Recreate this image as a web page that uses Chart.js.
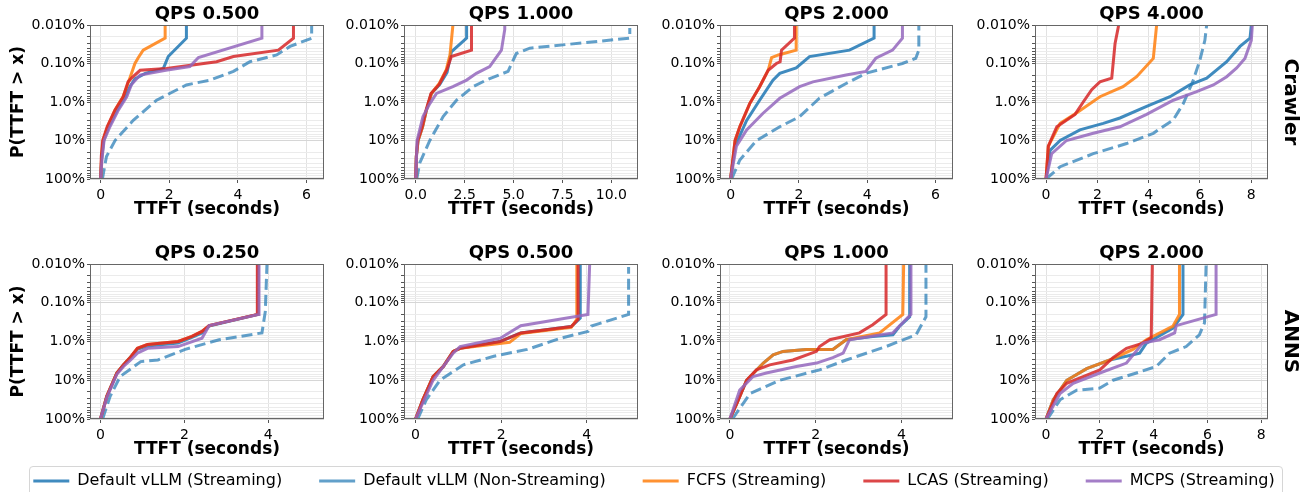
<!DOCTYPE html>
<html>
<head>
<meta charset="utf-8">
<script src="https://cdn.jsdelivr.net/npm/chart.js@4.4.1/dist/chart.umd.min.js"></script>
<style>
  html, body { margin: 0; padding: 0; background: #fff; width: 1309px; height: 492px; overflow: hidden; }
  canvas { position: absolute; }
  #legendBox { position: absolute; left: 29px; top: 466px; width: 1252px; height: 40px;
               border: 1px solid #d6d6d6; border-radius: 4px; }
</style>
</head>
<body>
<div id="legendBox"></div>
<script>
// series / panels
const seriesNames = ['Default vLLM (Streaming)', 'Default vLLM (Non-Streaming)', 'FCFS (Streaming)', 'LCAS (Streaming)', 'MCPS (Streaming)'];
const rowNames = ['Crawler', 'ANNS'];
const panelTitles = ['QPS 0.500', 'QPS 1.000', 'QPS 2.000', 'QPS 4.000', 'QPS 0.250', 'QPS 0.500', 'QPS 1.000', 'QPS 2.000'];
const yTickValues = [0.01, 0.1, 1, 10, 100];
const yTickLabels = ['0.010%', '0.10%', '1.0%', '10%', '100%'];
const xTicks = [[0, 2, 4, 6], [0, 2.5, 5, 7.5, 10], [0, 2, 4, 6], [0, 2, 4, 6, 8],
                [0, 2, 4], [0, 2, 4], [0, 2, 4], [0, 2, 4, 6, 8]];
const xDecimals = [0, 1, 0, 0, 0, 0, 0, 0];

// points are [TTFT seconds, P(TTFT > x) in %]
// Crawler, QPS 0.5
const c05_vllm   = [[0,100],[0.03,30],[0.09,10],[0.23,4.4],[0.48,1.6],[0.72,0.73],[0.85,0.4],[1.0,0.25],[1.3,0.18],[1.83,0.134],[1.97,0.066],[2.5,0.022],[2.5,0.01]];
const c05_vllmNS = [[0.05,100],[0.17,26],[0.42,10],[0.95,3],[1.63,0.9],[2.5,0.36],[3.19,0.27],[3.87,0.16],[4.35,0.09],[5.13,0.06],[5.52,0.036],[6.15,0.022],[6.15,0.01]];
const c05_fcfs   = [[0,100],[0.03,25],[0.07,10],[0.2,4.4],[0.42,1.6],[0.65,0.73],[0.76,0.4],[0.85,0.24],[1.0,0.1],[1.1,0.07],[1.24,0.045],[1.88,0.022],[1.88,0.01]];
const c05_lcas   = [[0,100],[0.02,25],[0.06,10],[0.19,4.4],[0.42,1.6],[0.66,0.73],[0.8,0.3],[0.9,0.24],[1.15,0.15],[1.92,0.134],[3.38,0.09],[3.87,0.066],[5.18,0.045],[5.62,0.022],[5.62,0.01]];
const c05_mcps   = [[0,100],[0.04,30],[0.1,10],[0.27,4.4],[0.52,1.6],[0.76,0.73],[0.9,0.35],[1.15,0.2],[1.9,0.15],[2.6,0.12],[2.85,0.07],[4.7,0.022],[4.7,0.01]];
// Crawler, QPS 1.0
const c1_vllm    = [[0,100],[0.03,26],[0.12,10],[0.35,4.4],[0.55,1.6],[0.8,0.6],[1.23,0.35],[1.6,0.17],[1.82,0.05],[2.6,0.022],[2.6,0.01]];
const c1_vllmNS  = [[0.05,100],[0.2,39],[0.72,10],[1.4,2.4],[2.08,0.9],[2.93,0.4],[3.6,0.27],[4.72,0.16],[5.14,0.055],[5.83,0.04],[10.94,0.022],[10.94,0.012]];
const c1_fcfs    = [[0,100],[0.03,26],[0.12,10],[0.35,4.4],[0.55,1.6],[0.8,0.6],[1.2,0.33],[1.55,0.15],[1.75,0.06],[1.9,0.01]];
const c1_lcas    = [[0,100],[0.03,26],[0.1,10],[0.33,4.4],[0.53,1.6],[0.78,0.6],[1.2,0.35],[1.6,0.14],[1.82,0.066],[2.85,0.045],[2.85,0.01]];
const c1_mcps    = [[0,100],[0.07,10],[0.37,2.4],[0.72,1.1],[1.06,0.6],[1.9,0.4],[2.6,0.27],[3.1,0.18],[3.78,0.12],[4.38,0.045],[4.55,0.013],[4.55,0.01]];
// Crawler, QPS 2.0
const c2_vllm    = [[0,100],[0.13,14],[0.47,3],[0.85,0.9],[1.24,0.27],[1.44,0.18],[1.92,0.13],[2.31,0.066],[3.48,0.045],[4.2,0.022],[4.2,0.01]];
const c2_vllmNS  = [[0.03,100],[0.27,32],[0.76,10],[1.44,4.4],[2.02,2.4],[2.6,0.8],[3.38,0.33],[3.96,0.18],[5.03,0.1],[5.42,0.073],[5.51,0.045],[5.51,0.01]];
const c2_fcfs    = [[0,100],[0.13,10],[0.27,4.4],[0.56,1.1],[0.85,0.4],[1.1,0.15],[1.2,0.07],[1.4,0.06],[1.92,0.045],[1.92,0.01]];
const c2_lcas    = [[0,100],[0.13,10],[0.27,4.4],[0.56,1.1],[0.85,0.4],[1.1,0.15],[1.34,0.1],[1.45,0.09],[1.49,0.045],[1.87,0.022],[1.87,0.01]];
const c2_mcps    = [[0,100],[0.17,14],[0.47,5.3],[0.95,1.96],[1.44,0.8],[2.02,0.4],[2.41,0.3],[3.38,0.2],[3.96,0.16],[4.25,0.073],[4.74,0.045],[5.03,0.022],[5.03,0.01]];
// Crawler, QPS 4.0
const c4_vllm    = [[0,100],[0.16,18],[0.55,10],[1.32,5.3],[2.23,3.6],[2.88,2.6],[3.92,1.3],[4.83,0.73],[5.6,0.36],[6.26,0.24],[7.04,0.09],[7.56,0.036],[7.95,0.022],[8.0,0.01]];
const c4_vllmNS  = [[0,100],[0.55,48],[1.84,22],[3.14,12],[4.18,6.5],[4.96,2.9],[5.35,1.1],[5.74,0.27],[6.0,0.08],[6.19,0.025],[6.26,0.01]];
const c4_fcfs    = [[0,100],[0.09,14],[0.55,3.6],[1.2,1.9],[2.1,0.73],[3.0,0.4],[3.53,0.22],[4.18,0.074],[4.31,0.01]];
const c4_lcas    = [[0,100],[0.09,14],[0.42,4.4],[1.13,2.1],[1.45,1.0],[1.78,0.48],[2.1,0.3],[2.56,0.24],[2.69,0.03],[2.82,0.011],[2.82,0.01]];
const c4_mcps    = [[0,100],[0.22,22],[0.8,10],[1.84,6.5],[2.88,4.4],[3.92,2.1],[4.96,0.9],[5.87,0.54],[6.52,0.36],[7.04,0.22],[7.43,0.13],[7.75,0.074],[8.0,0.025],[8.04,0.01]];
// ANNS, QPS 0.25
const a025_vllm   = [[0,100],[0.15,26],[0.39,6.5],[0.55,4],[0.72,2.5],[0.88,1.6],[1.12,1.3],[1.85,1.1],[2.18,0.78],[2.42,0.6],[2.59,0.4],[3.76,0.2],[3.76,0.01]];
const a025_vllmNS = [[0.05,100],[0.23,26],[0.47,8],[0.96,3.3],[1.37,3],[2.02,1.6],[2.83,0.9],[3.85,0.6],[3.93,0.17],[3.97,0.01]];
const a025_fcfs   = [[0,100],[0.15,26],[0.39,6.5],[0.55,4],[0.72,2.5],[0.88,1.5],[1.12,1.2],[1.85,1.0],[2.18,0.74],[2.42,0.55],[2.59,0.39],[3.76,0.2],[3.76,0.01]];
const a025_lcas   = [[0,100],[0.15,26],[0.39,6.5],[0.55,4],[0.72,2.5],[0.88,1.5],[1.12,1.2],[1.85,1.0],[2.18,0.74],[2.42,0.55],[2.59,0.39],[3.74,0.2],[3.74,0.01]];
const a025_mcps   = [[0,100],[0.15,28],[0.39,7],[0.55,4.4],[0.72,3],[0.88,2.0],[1.12,1.5],[1.85,1.35],[2.42,0.82],[2.59,0.39],[3.76,0.2],[3.78,0.01]];
// ANNS, QPS 0.5
const a05_vllm   = [[0,100],[0.17,32],[0.41,8],[0.65,4.4],[0.88,1.8],[1.04,1.5],[1.98,1.0],[2.46,0.6],[3.64,0.41],[3.85,0.25],[3.85,0.01]];
const a05_vllmNS = [[0.05,100],[0.25,32],[0.57,10],[1.12,4],[1.83,2.4],[2.61,1.6],[3.4,0.82],[4.03,0.55],[4.11,0.4],[4.98,0.2],[4.98,0.012]];
const a05_fcfs   = [[0,100],[0.17,32],[0.41,8],[0.65,4.4],[0.88,1.8],[1.04,1.5],[2.2,1.05],[2.46,0.62],[3.64,0.43],[3.77,0.27],[3.77,0.01]];
const a05_lcas   = [[0,100],[0.17,32],[0.41,8],[0.65,4.4],[0.88,1.8],[1.04,1.5],[1.98,1.0],[2.46,0.6],[3.64,0.41],[3.8,0.27],[3.8,0.01]];
const a05_mcps   = [[0,100],[0.41,10],[0.88,2],[1.04,1.35],[1.98,0.82],[2.46,0.39],[4.03,0.2],[4.07,0.01]];
// ANNS, QPS 1.0
const a1_vllm    = [[0,100],[0.16,40],[0.39,10],[0.78,3.6],[1.01,2.2],[1.24,1.8],[1.78,1.6],[2.4,1.6],[2.71,0.9],[3.33,0.74],[3.8,0.67],[3.95,0.41],[4.19,0.23],[4.19,0.01]];
const a1_vllmNS  = [[0.06,100],[0.47,22],[1.16,10],[2.09,5.4],[2.71,3],[3.64,1.35],[4.34,0.67],[4.57,0.23],[4.57,0.01]];
const a1_fcfs    = [[0,100],[0.16,40],[0.39,10],[0.78,3.6],[1.01,2.2],[1.24,1.8],[1.78,1.6],[2.4,1.6],[2.71,0.9],[3.49,0.6],[4.03,0.2],[4.05,0.01]];
const a1_lcas    = [[0,100],[0.16,40],[0.39,10],[0.62,5.4],[0.93,4],[1.47,3],[2.02,1.8],[2.09,1.35],[2.33,0.9],[3.02,0.6],[3.33,0.37],[3.64,0.2],[3.64,0.01]];
const a1_mcps    = [[0,100],[0.23,18],[0.54,8],[0.85,6.5],[1.55,4.4],[2.02,3.6],[2.4,2.6],[2.64,2],[2.79,0.9],[3.8,0.6],[3.95,0.4],[4.22,0.2],[4.22,0.01]];
// ANNS, QPS 2.0
const a2_vllm    = [[0,100],[0.27,32],[0.52,18],[0.77,10],[1.51,5],[2.37,3],[3.23,2.2],[3.48,2],[3.73,1.1],[4.72,0.45],[5.09,0.2],[5.09,0.01]];
const a2_vllmNS  = [[0.05,100],[0.52,32],[1.14,18],[2.0,16],[2.49,10],[3.36,6.5],[4.1,4.4],[4.59,2],[5.21,1.35],[5.7,0.67],[5.89,0.33],[5.95,0.01]];
const a2_fcfs    = [[0,100],[0.27,32],[0.52,18],[0.77,10],[1.51,5],[2.37,3],[3.23,1.6],[3.73,0.9],[4.72,0.4],[4.96,0.2],[4.96,0.01]];
const a2_lcas    = [[0,100],[0.4,22],[0.77,12],[2.0,5.4],[2.49,2.6],[2.99,1.5],[3.6,1.1],[3.91,0.8],[3.95,0.01]];
const a2_mcps    = [[0,100],[0.52,22],[1.01,12],[2.0,6.5],[2.99,3.6],[3.6,1.1],[4.22,0.9],[4.78,0.6],[4.84,0.39],[6.32,0.2],[6.32,0.01]];

const panelSeries = [
  [c05_vllm, c05_vllmNS, c05_fcfs, c05_lcas, c05_mcps],
  [c1_vllm, c1_vllmNS, c1_fcfs, c1_lcas, c1_mcps],
  [c2_vllm, c2_vllmNS, c2_fcfs, c2_lcas, c2_mcps],
  [c4_vllm, c4_vllmNS, c4_fcfs, c4_lcas, c4_mcps],
  [a025_vllm, a025_vllmNS, a025_fcfs, a025_lcas, a025_mcps],
  [a05_vllm, a05_vllmNS, a05_fcfs, a05_lcas, a05_mcps],
  [a1_vllm, a1_vllmNS, a1_fcfs, a1_lcas, a1_mcps],
  [a2_vllm, a2_vllmNS, a2_fcfs, a2_lcas, a2_mcps],
];

// styling
const FONT = 'DejaVu Sans';
const seriesColors = ['rgba(31,119,180,0.85)', 'rgba(31,119,180,0.7)', 'rgba(255,127,14,0.85)', 'rgba(214,39,40,0.85)', 'rgba(148,103,189,0.85)'];
const seriesDash = [[], [11, 5], [], [], []];

// layout of the plot areas (pixels)
const plotLeft = [90, 404, 720, 1035];
const plotRight = [324, 638, 953, 1268];
const plotTop = [25, 264];
const plotBottom = [179, 419];
const xLimits = [[-0.31, 6.51], [-0.6, 11.36], [-0.31, 6.51], [-0.43, 8.65],
                 [-0.25, 5.33], [-0.27, 5.2], [-0.23, 5.2], [-0.41, 8.25]];

// y grid at 1..9 x each decade
const yGrid = [];
for (let e = -2; e <= 2; e++) {
  for (let k = 1; k <= 9; k++) {
    const v = Number((k * Math.pow(10, e)).toPrecision(3));
    if (v <= 100) yGrid.push(v);
  }
}
const majorIndex = v => yTickValues.findIndex(t => Math.abs(v / t - 1) < 1e-6);

const framePlugin = {
  id: 'frame',
  afterDatasetsDraw(chart) {
    const a = chart.chartArea, c = chart.ctx;
    c.save();
    c.strokeStyle = '#666';
    c.lineWidth = 1;
    c.strokeRect(Math.round(a.left) + 0.5, Math.round(a.top) + 0.5, Math.round(a.right - a.left) - 1, Math.round(a.bottom - a.top) - 1);
    c.restore();
  }
};

function makePanel(i) {
  const row = Math.floor(i / 4), col = i % 4;
  const wl = col === 0 ? 81 : 62;
  const wr = col === 3 ? 34 : 8;
  const tTop = 27, hb = 41;
  const left = plotLeft[col] - wl, top = plotTop[row] - tTop;
  const width = wl + plotRight[col] - plotLeft[col] + wr;
  const height = tTop + plotBottom[row] - plotTop[row] + hb;

  const cv = document.createElement('canvas');
  cv.width = width; cv.height = height;
  cv.style.left = left + 'px'; cv.style.top = top + 'px';
  cv.style.width = width + 'px'; cv.style.height = height + 'px';
  document.body.appendChild(cv);

  const datasets = panelSeries[i].map((pts, k) => ({
    label: seriesNames[k],
    data: pts.map(p => ({ x: p[0], y: p[1] })),
    showLine: true,
    borderColor: seriesColors[k],
    backgroundColor: seriesColors[k],
    borderWidth: 3,
    borderDash: seriesDash[k],
    pointRadius: 0,
    tension: 0,
    order: 5 - k,
  }));

  const scales = {
    x: {
      type: 'linear', min: xLimits[i][0], max: xLimits[i][1],
      afterBuildTicks: ax => { ax.ticks = xTicks[i].map(v => ({ value: v })); },
      afterFit: s => { s.height = hb; },
      ticks: { autoSkip: false, maxRotation: 0, padding: 4, color: '#000', font: { family: FONT, size: 14 },
               callback: v => Number(v).toFixed(xDecimals[i]) },
      grid: { color: '#e2e2e2', tickLength: 4, tickColor: '#555' },
      border: { display: false },
      title: { display: true, text: 'TTFT (seconds)', color: '#000', padding: { top: 0, bottom: 0 },
               font: { family: FONT, size: 17, weight: 'bold', lineHeight: '20px' } }
    },
    y: {
      type: 'logarithmic', reverse: true, min: 0.01, max: 100,
      afterBuildTicks: ax => { ax.ticks = yGrid.map(v => ({ value: v })); },
      afterFit: s => { s.width = wl; },
      ticks: { autoSkip: false, padding: 2, color: '#000', font: { family: FONT, size: 14 },
               callback: v => { const m = majorIndex(v); return m >= 0 ? yTickLabels[m] : ''; } },
      grid: { color: c => majorIndex(c.tick.value) >= 0 ? '#d6d6d6' : '#ebebeb', tickLength: 3, tickColor: '#555' },
      border: { display: false },
      title: { display: col === 0, text: 'P(TTFT > x)', color: '#000', padding: { top: 0, bottom: 0 },
               font: { family: FONT, size: 17, weight: 'bold', lineHeight: '20px' } }
    }
  };
  if (col === 3) {
    scales.r = {
      type: 'linear', position: 'right', display: true,
      afterFit: s => { s.width = wr; },
      ticks: { display: false },
      grid: { display: false, drawTicks: false },
      border: { display: false },
      title: { display: true, text: rowNames[row], color: '#000', padding: { top: 0, bottom: 0 },
               font: { family: FONT, size: 20, weight: 'bold', lineHeight: '24px' } }
    };
  }

  new Chart(cv, {
    type: 'scatter',
    data: { datasets },
    options: {
      responsive: false,
      animation: false,
      layout: { padding: { left: 0, right: col === 3 ? 0 : wr, top: 0, bottom: 0 } },
      scales,
      plugins: {
        legend: { display: false },
        tooltip: { enabled: false },
        title: { display: true, text: panelTitles[i], color: '#000', fullSize: false,
                 padding: { top: 5, bottom: 0 },
                 font: { family: FONT, size: 18, weight: 'bold', lineHeight: '22px' } }
      }
    },
    plugins: [framePlugin]
  });
}

for (let i = 0; i < 8; i++) makePanel(i);

// shared legend (canvas taller than the window so the legend box is not clipped)
const lg = document.createElement('canvas');
lg.width = 1400; lg.height = 200;
lg.style.left = '-46px'; lg.style.top = '436px';
lg.style.width = '1400px'; lg.style.height = '200px';
document.body.appendChild(lg);
new Chart(lg, {
  type: 'line',
  data: {
    labels: [],
    datasets: seriesNames.map((n, k) => ({ label: n, data: [], borderColor: seriesColors[k], backgroundColor: seriesColors[k],
                                            borderWidth: 3, borderDash: seriesDash[k] }))
  },
  options: {
    responsive: false,
    animation: false,
    scales: { x: { display: false }, y: { display: false } },
    plugins: {
      tooltip: { enabled: false },
      legend: {
        display: true, position: 'top',
        labels: { usePointStyle: true, pointStyle: 'line', pointStyleWidth: 36, padding: 37, color: '#000',
                  font: { family: FONT, size: 16 } }
      }
    }
  }
});
</script>
</body>
</html>
